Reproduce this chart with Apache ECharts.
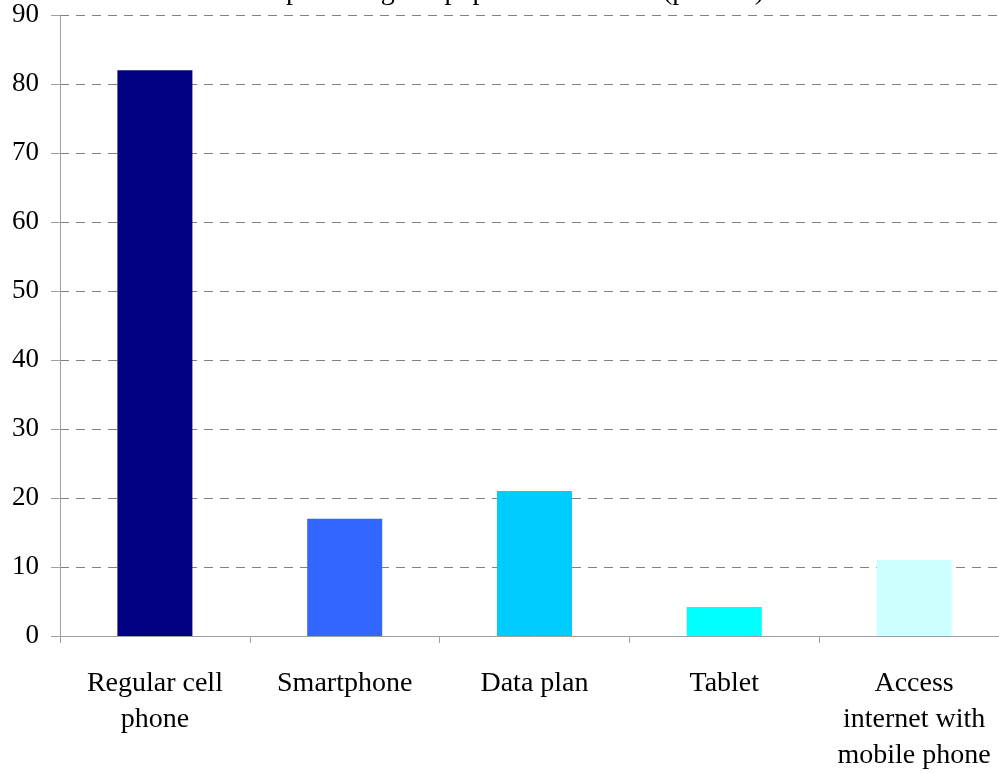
<!DOCTYPE html>
<html>
<head>
<meta charset="utf-8">
<script src="https://cdn.jsdelivr.net/npm/echarts@6/dist/echarts.min.js"></script>
<style>html,body{margin:0;padding:0;background:#fff;overflow:hidden}#c{width:1010px;height:774px}</style>
</head>
<body>
<div id="c"></div>
<script>
const titleText = 'percentage of population in 2012 (percent)';
const categories = ['Regular cell\nphone', 'Smartphone', 'Data plan', 'Tablet', 'Access\ninternet with\nmobile phone'];
const values = [82, 17, 21, 4.2, 11];
const barColors = ['#000080', '#3366FF', '#00CCFF', '#00FFFF', '#CCFFFF'];
const yMin = 0, yMax = 90, yStep = 10;

const FONT = '"Liberation Serif", "Times New Roman", serif';
const chart = echarts.init(document.getElementById('c'), null, {renderer: 'canvas'});
chart.setOption({
  animation: false,
  backgroundColor: '#fff',
  graphic: [{
    type: 'text', x: 525, y: 6,
    style: {text: titleText, font: '28px ' + FONT, fill: '#000', align: 'center', verticalAlign: 'bottom'}
  }],
  grid: {left: 60, width: 949, top: 15, bottom: 136, containLabel: false},
  xAxis: {
    type: 'category', data: categories,
    axisLine: {lineStyle: {color: '#a0a0a0', width: 1}},
    axisTick: {show: true, length: 7, alignWithLabel: false, lineStyle: {color: '#a0a0a0'}},
    axisLabel: {interval: 0, margin: 30, fontFamily: FONT, fontSize: 28, lineHeight: 36, color: '#000', align: 'center'}
  },
  yAxis: {
    type: 'value', min: yMin, max: yMax, interval: yStep,
    axisLine: {show: true, lineStyle: {color: '#a0a0a0'}},
    axisTick: {show: true, length: 9, lineStyle: {color: '#a0a0a0'}},
    axisLabel: {margin: 21, fontFamily: FONT, fontSize: 27, color: '#000'},
    splitLine: {show: true, lineStyle: {color: '#808080', type: [9, 7], width: 1}}
  },
  series: [{
    type: 'bar', barWidth: 75,
    data: values.map((v, i) => ({value: v, itemStyle: {color: barColors[i]}}))
  }]
});
</script>
</body>
</html>
